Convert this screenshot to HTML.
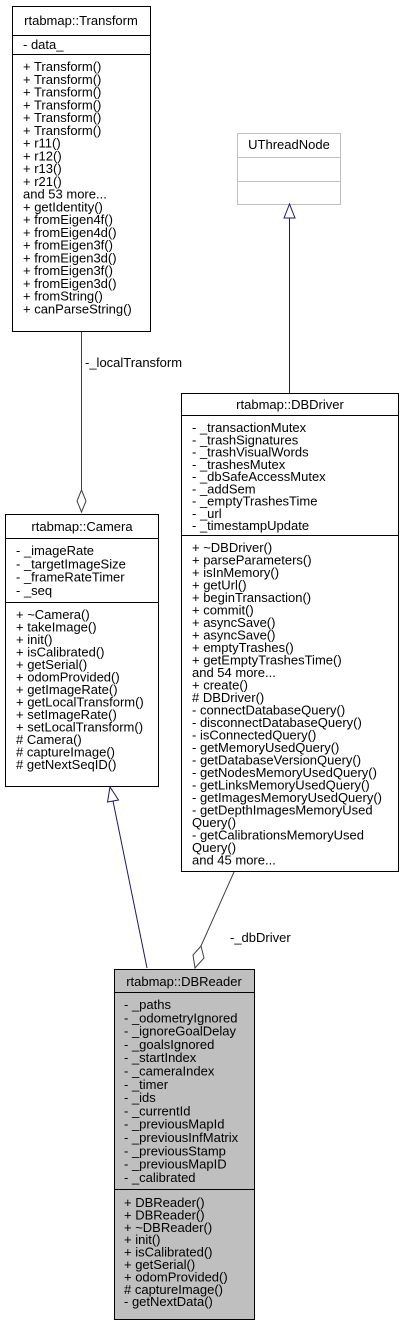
<!DOCTYPE html>
<html><head><meta charset="utf-8"><style>
html,body{margin:0;padding:0;background:#fff;}
svg{display:block;font-family:"Liberation Sans",Arial,sans-serif;font-size:13px;}
</style></head><body>
<svg width="403" height="1327" viewBox="0 0 403 1327" xmlns="http://www.w3.org/2000/svg">
<!-- Transform -->
<rect x="12.5" y="6.5" width="138" height="325" fill="#fff" stroke="#000"/>
<line x1="12" y1="35.5" x2="151" y2="35.5" stroke="#000"/>
<line x1="12" y1="54.5" x2="151" y2="54.5" stroke="#000"/>
<text x="81" y="25" text-anchor="middle">rtabmap::Transform</text>
<text x="23" y="49">- data_</text>
<text x="23" y="71"><tspan x="23">+ Transform()</tspan><tspan x="23" dy="12.75">+ Transform()</tspan><tspan x="23" dy="12.75">+ Transform()</tspan><tspan x="23" dy="12.75">+ Transform()</tspan><tspan x="23" dy="12.75">+ Transform()</tspan><tspan x="23" dy="12.75">+ Transform()</tspan><tspan x="23" dy="12.75">+ r11()</tspan><tspan x="23" dy="12.75">+ r12()</tspan><tspan x="23" dy="12.75">+ r13()</tspan><tspan x="23" dy="12.75">+ r21()</tspan><tspan x="23" dy="12.75">and 53 more...</tspan><tspan x="23" dy="12.75">+ getIdentity()</tspan><tspan x="23" dy="12.75">+ fromEigen4f()</tspan><tspan x="23" dy="12.75">+ fromEigen4d()</tspan><tspan x="23" dy="12.75">+ fromEigen3f()</tspan><tspan x="23" dy="12.75">+ fromEigen3d()</tspan><tspan x="23" dy="12.75">+ fromEigen3f()</tspan><tspan x="23" dy="12.75">+ fromEigen3d()</tspan><tspan x="23" dy="12.75">+ fromString()</tspan><tspan x="23" dy="12.75">+ canParseString()</tspan></text>

<!-- UThreadNode -->
<rect x="237.5" y="133.5" width="103" height="71" fill="#fff" stroke="#bfbfbf"/>
<line x1="237" y1="157.5" x2="341" y2="157.5" stroke="#bfbfbf"/>
<line x1="237" y1="181.5" x2="341" y2="181.5" stroke="#bfbfbf"/>
<text x="289" y="149" text-anchor="middle">UThreadNode</text>

<!-- edge UThreadNode -> DBDriver -->
<line x1="289.5" y1="218" x2="289.5" y2="393" stroke="#191970"/>
<polygon points="289.5,204 284,218 295,218" fill="#fff" stroke="#191970"/>

<!-- edge Transform -> Camera -->
<line x1="81.5" y1="332" x2="81.5" y2="490" stroke="#404040"/>
<polygon points="81.5,490 77,501 81.5,512 86,501" fill="#fff" stroke="#404040"/>
<text x="85" y="367">-_localTransform</text>

<!-- Camera -->
<rect x="5.5" y="514.5" width="153" height="272" fill="#fff" stroke="#000"/>
<line x1="5" y1="538.5" x2="159" y2="538.5" stroke="#000"/>
<line x1="5" y1="602.5" x2="159" y2="602.5" stroke="#000"/>
<text x="82" y="531" text-anchor="middle">rtabmap::Camera</text>
<text x="16" y="555"><tspan x="16">- _imageRate</tspan><tspan x="16" dy="13.3">- _targetImageSize</tspan><tspan x="16" dy="13.3">- _frameRateTimer</tspan><tspan x="16" dy="13.3">- _seq</tspan></text>
<text x="16" y="619"><tspan x="16">+ ~Camera()</tspan><tspan x="16" dy="12.5">+ takeImage()</tspan><tspan x="16" dy="12.5">+ init()</tspan><tspan x="16" dy="12.5">+ isCalibrated()</tspan><tspan x="16" dy="12.5">+ getSerial()</tspan><tspan x="16" dy="12.5">+ odomProvided()</tspan><tspan x="16" dy="12.5">+ getImageRate()</tspan><tspan x="16" dy="12.5">+ getLocalTransform()</tspan><tspan x="16" dy="12.5">+ setImageRate()</tspan><tspan x="16" dy="12.5">+ setLocalTransform()</tspan><tspan x="16" dy="12.5"># Camera()</tspan><tspan x="16" dy="12.5"># captureImage()</tspan><tspan x="16" dy="12.5"># getNextSeqID()</tspan></text>

<!-- DBDriver -->
<rect x="181.5" y="393.5" width="217" height="478" fill="#fff" stroke="#000"/>
<line x1="181" y1="415.5" x2="399" y2="415.5" stroke="#000"/>
<line x1="181" y1="535.5" x2="399" y2="535.5" stroke="#000"/>
<text x="290" y="409" text-anchor="middle">rtabmap::DBDriver</text>
<text x="192" y="432"><tspan x="192">- _transactionMutex</tspan><tspan x="192" dy="12.25">- _trashSignatures</tspan><tspan x="192" dy="12.25">- _trashVisualWords</tspan><tspan x="192" dy="12.25">- _trashesMutex</tspan><tspan x="192" dy="12.25">- _dbSafeAccessMutex</tspan><tspan x="192" dy="12.25">- _addSem</tspan><tspan x="192" dy="12.25">- _emptyTrashesTime</tspan><tspan x="192" dy="12.25">- _url</tspan><tspan x="192" dy="12.25">- _timestampUpdate</tspan></text>
<text x="192" y="552"><tspan x="192">+ ~DBDriver()</tspan><tspan x="192" dy="12.5">+ parseParameters()</tspan><tspan x="192" dy="12.5">+ isInMemory()</tspan><tspan x="192" dy="12.5">+ getUrl()</tspan><tspan x="192" dy="12.5">+ beginTransaction()</tspan><tspan x="192" dy="12.5">+ commit()</tspan><tspan x="192" dy="12.5">+ asyncSave()</tspan><tspan x="192" dy="12.5">+ asyncSave()</tspan><tspan x="192" dy="12.5">+ emptyTrashes()</tspan><tspan x="192" dy="12.5">+ getEmptyTrashesTime()</tspan><tspan x="192" dy="12.5">and 54 more...</tspan><tspan x="192" dy="12.5">+ create()</tspan><tspan x="192" dy="12.5"># DBDriver()</tspan><tspan x="192" dy="12.5">- connectDatabaseQuery()</tspan><tspan x="192" dy="12.5">- disconnectDatabaseQuery()</tspan><tspan x="192" dy="12.5">- isConnectedQuery()</tspan><tspan x="192" dy="12.5">- getMemoryUsedQuery()</tspan><tspan x="192" dy="12.5">- getDatabaseVersionQuery()</tspan><tspan x="192" dy="12.5">- getNodesMemoryUsedQuery()</tspan><tspan x="192" dy="12.5">- getLinksMemoryUsedQuery()</tspan><tspan x="192" dy="12.5">- getImagesMemoryUsedQuery()</tspan><tspan x="192" dy="12.5">- getDepthImagesMemoryUsed</tspan><tspan x="192" dy="12.5">Query()</tspan><tspan x="192" dy="12.5">- getCalibrationsMemoryUsed</tspan><tspan x="192" dy="12.5">Query()</tspan><tspan x="192" dy="12.5">and 45 more...</tspan></text>

<!-- edge Camera -> DBReader -->
<line x1="113" y1="801" x2="147" y2="968" stroke="#191970"/>
<polygon points="110,787 107.5,802 118.5,800" fill="#fff" stroke="#191970"/>

<!-- edge DBDriver -> DBReader -->
<line x1="234" y1="872" x2="201" y2="946" stroke="#404040"/>
<polygon points="201,946 193,955 195,968 204,958" fill="#fff" stroke="#404040"/>
<text x="230" y="942">-_dbDriver</text>

<!-- DBReader -->
<rect x="114.5" y="969.5" width="140" height="350" fill="#bfbfbf" stroke="#000"/>
<line x1="114" y1="992.5" x2="255" y2="992.5" stroke="#000"/>
<line x1="114" y1="1189.5" x2="255" y2="1189.5" stroke="#000"/>
<text x="184" y="986" text-anchor="middle">rtabmap::DBReader</text>
<text x="124" y="1009"><tspan x="124">- _paths</tspan><tspan x="124" dy="13.3">- _odometryIgnored</tspan><tspan x="124" dy="13.3">- _ignoreGoalDelay</tspan><tspan x="124" dy="13.3">- _goalsIgnored</tspan><tspan x="124" dy="13.3">- _startIndex</tspan><tspan x="124" dy="13.3">- _cameraIndex</tspan><tspan x="124" dy="13.3">- _timer</tspan><tspan x="124" dy="13.3">- _ids</tspan><tspan x="124" dy="13.3">- _currentId</tspan><tspan x="124" dy="13.3">- _previousMapId</tspan><tspan x="124" dy="13.3">- _previousInfMatrix</tspan><tspan x="124" dy="13.3">- _previousStamp</tspan><tspan x="124" dy="13.3">- _previousMapID</tspan><tspan x="124" dy="13.3">- _calibrated</tspan></text>
<text x="124" y="1207"><tspan x="124">+ DBReader()</tspan><tspan x="124" dy="12.4">+ DBReader()</tspan><tspan x="124" dy="12.4">+ ~DBReader()</tspan><tspan x="124" dy="12.4">+ init()</tspan><tspan x="124" dy="12.4">+ isCalibrated()</tspan><tspan x="124" dy="12.4">+ getSerial()</tspan><tspan x="124" dy="12.4">+ odomProvided()</tspan><tspan x="124" dy="12.4"># captureImage()</tspan><tspan x="124" dy="12.4">- getNextData()</tspan></text>
</svg>
</body></html>
